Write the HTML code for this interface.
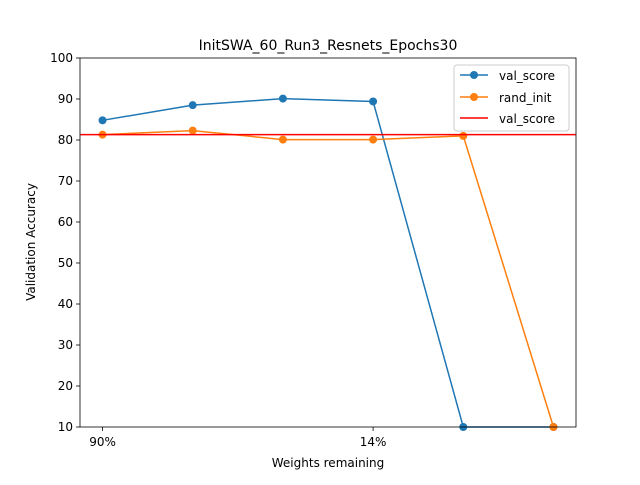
<!DOCTYPE html>
<html><head><meta charset="utf-8"><style>
body{margin:0;background:#fff;font-family:"Liberation Sans","DejaVu Sans",sans-serif;}
svg text{font-family:"DejaVu Sans","Liberation Sans",sans-serif;}
</style></head><body>
<svg id="chart" width="640" height="480">
<rect width="640" height="480" fill="#fff"/>
<text x="328" y="50" font-size="14" text-anchor="middle">InitSWA_60_Run3_Resnets_Epochs30</text>
<g id="axes"></g>
<g id="marks"></g>
<rect x="80" y="58" width="496" height="369" fill="none" stroke="#000" stroke-width="0.8"/>
<text x="328" y="467" font-size="12" text-anchor="middle">Weights remaining</text>
<text transform="translate(35,242) rotate(-90)" font-size="12" text-anchor="middle">Validation Accuracy</text>
<g>
<rect x="454" y="65" width="115" height="66" fill="#fff" stroke="#ccc" rx="3"/>
<g><line x1="460" y1="75" x2="488" y2="75" stroke="#1f77b4" stroke-width="1.5"/><circle cx="474" cy="75" r="4" fill="#1f77b4"/><text x="499" y="80" font-size="12">val_score</text></g>
<g><line x1="460" y1="97" x2="488" y2="97" stroke="#ff7f0e" stroke-width="1.5"/><circle cx="474" cy="97" r="4" fill="#ff7f0e"/><text x="499" y="102" font-size="12">rand_init</text></g>
<g><line x1="460" y1="118" x2="488" y2="118" stroke="#ff0000" stroke-width="1.5"/><text x="499" y="123" font-size="12">val_score</text></g>
</g>
</svg>
<script>
const categories=["90%","","","14%","",""];
const valScore=[84.8,88.5,90.1,89.4,10,10];
const randInit=[81.3,82.3,80.1,80.1,81.0,10];
const baseline=81.3;
const yTicks=[10,20,30,40,50,60,70,80,90,100];
const xTickIdx=[0,3];

const NS="http://www.w3.org/2000/svg";
const X0=80,X1=576,Y0=58,Y1=427;
function xs(i){return X0+(i+0.25)/5.5*(X1-X0);}
function ys(v){return Y1-(v-10)/90*(Y1-Y0);}
function mk(t,a,p){const e=document.createElementNS(NS,t);for(const k in a)e.setAttribute(k,a[k]);p.appendChild(e);return e;}
const axes=document.getElementById('axes'),marks=document.getElementById('marks');
yTicks.forEach(v=>{
  const g=mk('g',{},axes);
  
  
  mk('line',{x1:X0-4,x2:X0,y1:ys(v),y2:ys(v),stroke:'#000','stroke-width':0.8},g);
  const t=mk('text',{x:X0-7,y:ys(v)+4,'font-size':12,'text-anchor':'end'},g);t.textContent=v;
});
xTickIdx.forEach(i=>{
  const g=mk('g',{},axes);
  
  
  mk('line',{x1:xs(i),x2:xs(i),y1:Y1,y2:Y1+4,stroke:'#000','stroke-width':0.8},g);
  const t=mk('text',{x:xs(i),y:Y1+19,'font-size':12,'text-anchor':'middle'},g);t.textContent=categories[i];
});
function series(vals,color,name){
  const g=mk('g',{},marks);
  
  
  mk('polyline',{points:vals.map((v,i)=>xs(i)+','+ys(v)).join(' '),fill:'none',stroke:color,'stroke-width':1.5},g);
  vals.forEach((v,i)=>{
    const c=mk('circle',{cx:xs(i),cy:ys(v),r:4,fill:color},g);
    
    
  });
}
series(valScore,'#1f77b4','val-score-series');
series(randInit,'#ff7f0e','rand-init-series');
const bl=mk('line',{x1:X0,x2:X1,y1:ys(baseline),y2:ys(baseline),stroke:'#ff0000','stroke-width':1.5},marks);


</script>
</body></html>
